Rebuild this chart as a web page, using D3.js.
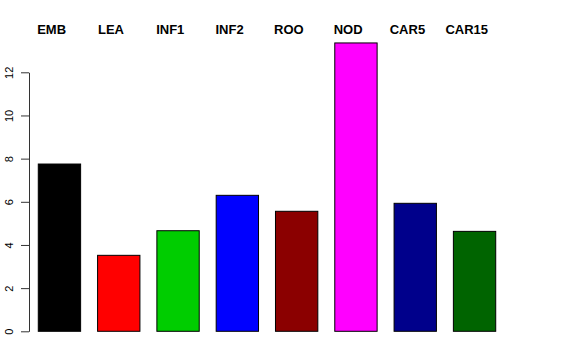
<!DOCTYPE html>
<html>
<head>
<meta charset="utf-8">
<script src="https://cdn.jsdelivr.net/npm/d3@7"></script>
<style>
  body { margin: 0; background: #fff; }
  svg { display: block; font-family: "Liberation Sans", Arial, sans-serif; }
</style>
</head>
<body>
<div id="chart"></div>
<script>
// data
const categories = ["EMB", "LEA", "INF1", "INF2", "ROO", "NOD", "CAR5", "CAR15"];
const values = [7.75, 3.52, 4.66, 6.30, 5.56, 13.36, 5.93, 4.63];
const colors = ["#000000", "#ff0000", "#00cd00", "#0000ff", "#8b0000", "#ff00ff", "#00008b", "#006400"];
const yTicks = [0, 2, 4, 6, 8, 10, 12];

const width = 576, height = 360;

const svg = d3.select("#chart").append("svg")
  .attr("width", width)
  .attr("height", height);

const x = d3.scaleBand()
  .domain(categories)
  .range([29.8, 504.2])
  .paddingInner(0.286)
  .paddingOuter(0.143);

const y = d3.scaleLinear()
  .domain([0, 12])
  .range([331.3, 72.3]);

// bars
svg.selectAll("rect.bar")
  .data(values)
  .enter()
  .append("rect")
  .attr("class", "bar")
  .attr("x", (d, i) => x(categories[i]))
  .attr("y", d => y(d))
  .attr("width", x.bandwidth())
  .attr("height", d => y(0) - y(d))
  .style("fill", (d, i) => colors[i])
  .style("stroke", "#000")
  .style("stroke-width", 1);

// labels on top, a bit left of the bar centres
svg.selectAll("text.cat")
  .data(categories)
  .enter()
  .append("text")
  .attr("class", "cat")
  .attr("x", d => x(d) + x.bandwidth() / 2 - 7.8)
  .attr("y", 34)
  .attr("text-anchor", "middle")
  .style("font-size", "13px")
  .style("font-weight", "bold")
  .text(d => d);

// y axis
const yAxis = d3.axisLeft(y)
  .tickValues(yTicks)
  .tickSize(8)
  .tickPadding(0)
  .tickSizeOuter(0);

const gy = svg.append("g")
  .attr("transform", "translate(29,0)")
  .call(yAxis);

gy.select(".domain").attr("stroke", "#333");
gy.selectAll(".tick line").attr("stroke", "#333");
gy.selectAll(".tick text")
  .attr("x", null)
  .attr("dy", null)
  .attr("transform", "translate(-20.5,0) rotate(-90)")
  .attr("text-anchor", "middle")
  .attr("dominant-baseline", "central")
  .style("font-size", "11px")
  .style("font-family", "Liberation Sans, Arial, sans-serif")
  .attr("fill", "#000");
</script>
</body>
</html>
